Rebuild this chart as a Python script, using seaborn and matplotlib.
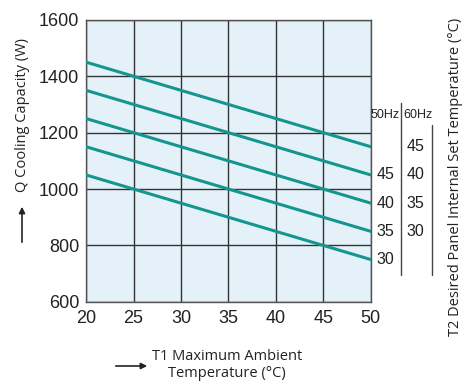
import pandas as pd
import seaborn as sns
import matplotlib
matplotlib.use("Agg")
import matplotlib.pyplot as plt

# data
ambient = [20, 50]
curve_50hz = ["30", "35", "40", "45", ""]
curve_60hz = ["", "30", "35", "40", "45"]
q_at_20 = [1050, 1150, 1250, 1350, 1450]
q_at_50 = [750, 850, 950, 1050, 1150]

rows = []
for i in range(len(q_at_20)):
    rows.append({"curve": i, "T1": ambient[0], "Q": q_at_20[i]})
    rows.append({"curve": i, "T1": ambient[1], "Q": q_at_50[i]})
df = pd.DataFrame(rows)

sns.set_style("ticks")
plt.rcParams["font.family"] = ["Liberation Sans", "DejaVu Sans"]

fig = plt.figure(figsize=(4.73, 3.89), dpi=100)
ax = fig.add_axes([0.182, 0.224, 0.602, 0.725])
ax.set_facecolor("#e4f1f9")

sns.lineplot(data=df, x="T1", y="Q", units="curve", estimator=None,
             color="#14968f", linewidth=2.2, ax=ax, zorder=3)

ax.set_xlim(20, 50)
ax.set_ylim(600, 1600)
ax.set_xticks(range(20, 51, 5))
ax.set_yticks(range(600, 1601, 200))
ax.grid(True, color="#333333", linewidth=1.0)
ax.set_axisbelow(True)
for s in ax.spines.values():
    s.set_color("#555555")
    s.set_linewidth(1.0)
ax.tick_params(labelsize=13, length=0, colors="#222222")
ax.tick_params(axis="x", pad=6)
ax.tick_params(axis="y", pad=5)
ax.set_xlabel("")
ax.set_ylabel("")

# right side labels for T2
for i in range(len(q_at_50)):
    y = q_at_50[i]
    ax.annotate(curve_50hz[i], xy=(50, y), xytext=(4, 0), textcoords="offset points",
                fontsize=11.5, va="center", ha="left", color="#222222", annotation_clip=False)
    ax.annotate(curve_60hz[i], xy=(50, y), xytext=(26, 0), textcoords="offset points",
                fontsize=11.5, va="center", ha="left", color="#222222", annotation_clip=False)

fig.text(371 / 473, 1 - 115 / 389, "50Hz", fontsize=9, va="center", ha="left", color="#222222")
fig.text(403 / 473, 1 - 115 / 389, "60Hz", fontsize=9, va="center", ha="left", color="#222222")
fig.add_artist(plt.Line2D([401 / 473, 401 / 473], [1 - 103 / 389, 1 - 275 / 389],
                          color="#444444", linewidth=1.0))
fig.add_artist(plt.Line2D([432 / 473, 432 / 473], [1 - 125 / 389, 1 - 275 / 389],
                          color="#444444", linewidth=1.0))
fig.text(455 / 473, 1 - 177 / 389, "T2 Desired Panel Internal Set Temperature (°C)",
         rotation=90, fontsize=10.5, va="center", ha="center", color="#222222",
         family=["Open Sans", "DejaVu Sans"])

# y label with arrow
fig.text(22 / 473, 1 - 115 / 389, "Q Cooling Capacity (W)", rotation=90,
         fontsize=10.5, va="center", ha="center", color="#222222",
         family=["Open Sans", "DejaVu Sans"])
fig.add_artist(matplotlib.patches.FancyArrowPatch((22 / 473, 1 - 245 / 389), (22 / 473, 1 - 204 / 389),
               transform=fig.transFigure, arrowstyle="-|>", mutation_scale=9,
               color="#222222", linewidth=1.2))

# x label with arrow
fig.text(227 / 473, 1 - 365 / 389, "T1 Maximum Ambient\nTemperature (°C)",
         fontsize=10.5, va="center", ha="center", color="#222222", linespacing=1.2,
         family=["Open Sans", "DejaVu Sans"])
fig.add_artist(matplotlib.patches.FancyArrowPatch((113 / 473, 1 - 366 / 389), (150 / 473, 1 - 366 / 389),
               transform=fig.transFigure, arrowstyle="-|>", mutation_scale=9,
               color="#222222", linewidth=1.2))

fig.savefig("out.png", dpi=100)
